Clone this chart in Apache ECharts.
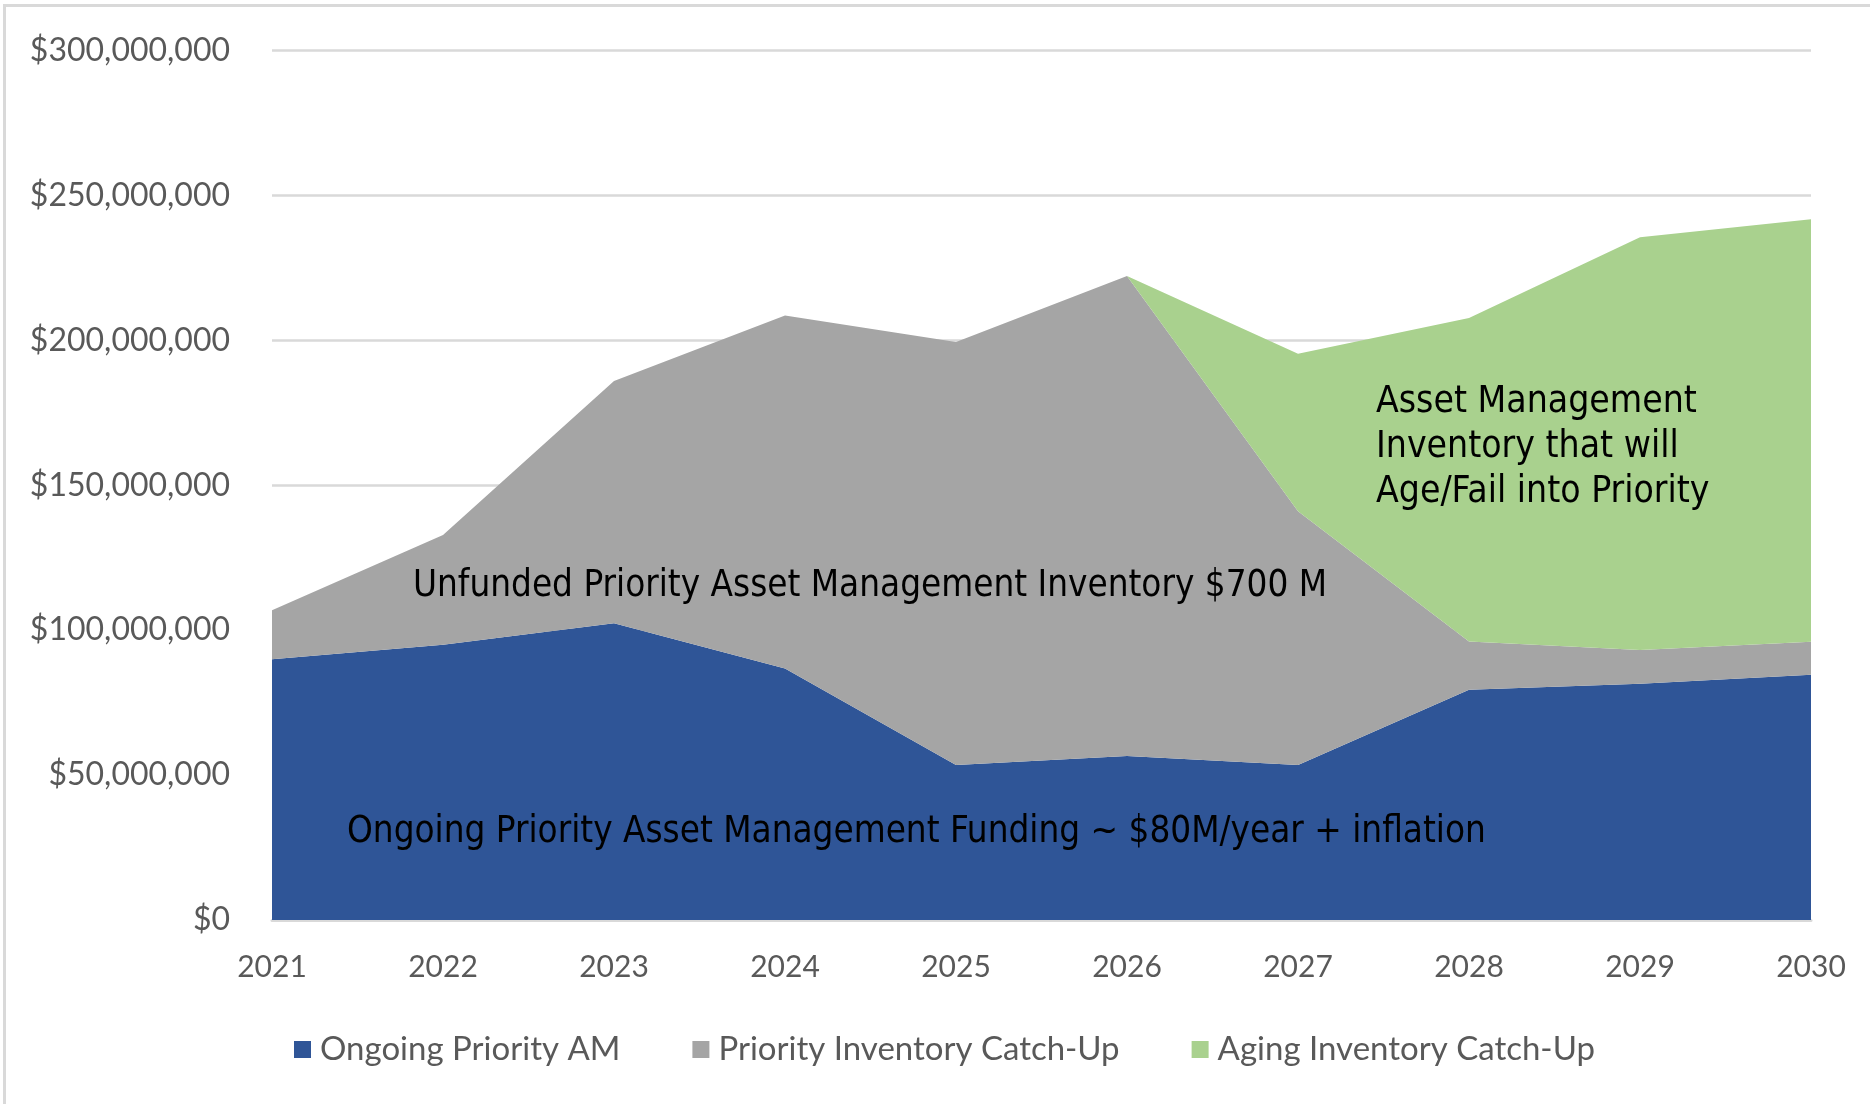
<!DOCTYPE html>
<html>
<head>
<meta charset="utf-8">
<script src="https://cdn.jsdelivr.net/npm/echarts@6/dist/echarts.min.js"></script>
<style>
  html, body { margin: 0; padding: 0; background: #fff; overflow: hidden; }
  #frame { position: absolute; left: 3px; top: 4px; width: 1900px; height: 1140px;
           border-left: 3px solid #d9d9d9; border-top: 3px solid #d9d9d9; }
  #chart { position: absolute; left: 0; top: 0; width: 1870px; height: 1104px; }
</style>
</head>
<body>
<div id="frame"></div>
<div id="chart"></div>
<script>
	// values in millions of dollars
	var years = ['2021', '2022', '2023', '2024', '2025', '2026', '2027', '2028', '2029', '2030'];
	var ongoingAM = [90, 95, 102.4, 86.8, 53.5, 56.6, 53.5, 79.4, 81.5, 84.6];
	var priorityCatchUp = [16.9, 37.8, 83.6, 121.8, 145.9, 165.6, 87.5, 16.7, 11.7, 11.4];
	var agingCatchUp = [0, 0, 0, 0, 0, 0, 54.4, 111.6, 142.4, 145.8];
	var yTicks = [0, 50, 100, 150, 200, 250, 300];

	var axisFont = 'Lato, "Open Sans", sans-serif';
	var noteFont = '"Liberation Sans Narrow", "DejaVu Sans Condensed", sans-serif';

	function money(v) {
		return '$' + Math.round(v * 1000000).toLocaleString('en-US');
	}

	function areaSeries(name, data, color) {
		return {
			name: name,
			type: 'line',
			stack: 'total',
			symbol: 'none',
			lineStyle: { width: 0 },
			areaStyle: { color: color, opacity: 1 },
			itemStyle: { color: color },
			data: data.map(function(v) { return v * 1000000; })
		};
	}

	var myChart = echarts.init(document.getElementById('chart'));
	var option = {
		animation: false,
		grid: { left: 272, right: 59, top: 50.5, bottom: 184 },
		legend: {
			left: 289,
			top: 1028,
			itemWidth: 17,
			itemHeight: 17,
			itemGap: 72,
			icon: 'rect',
			textStyle: { fontFamily: axisFont, fontSize: 33, color: '#595959', padding: [0, 0, 0, 4] },
			data: ['Ongoing Priority AM', 'Priority Inventory Catch-Up', 'Aging Inventory Catch-Up']
		},
		xAxis: {
			type: 'category',
			boundaryGap: false,
			data: years,
			axisTick: { show: false },
			axisLine: { lineStyle: { color: '#d9d9d9', width: 3 } },
			axisLabel: { fontFamily: axisFont, fontSize: 30, color: '#595959', margin: 32 }
		},
		yAxis: {
			type: 'value',
			min: yTicks[0] * 1000000,
			max: yTicks[yTicks.length - 1] * 1000000,
			interval: 50000000,
			axisLine: { show: false },
			axisTick: { show: false },
			splitLine: { lineStyle: { color: '#d9d9d9', width: 2.5 } },
			axisLabel: {
				fontFamily: axisFont, fontSize: 32, color: '#595959', margin: 42,
				formatter: function(v) { return money(v / 1000000); }
			}
		},
		graphic: [
			{
				type: 'text', left: 413, top: 568, z: 100,
				style: { text: 'Unfunded Priority Asset Management Inventory $700 M', font: '36.5px ' + noteFont, fill: '#000' }
			},
			{
				type: 'text', left: 347, top: 814, z: 100,
				style: { text: 'Ongoing Priority Asset Management Funding ~ $80M/year + inflation', font: '36.5px ' + noteFont, fill: '#000' }
			},
			{
				type: 'text', left: 1376, top: 380, z: 100,
				style: { text: 'Asset Management\nInventory that will\nAge/Fail into Priority', font: '37px ' + noteFont, lineHeight: 45, fill: '#000' }
			}
		],
		series: [
			areaSeries('Ongoing Priority AM', ongoingAM, '#2f5597'),
			areaSeries('Priority Inventory Catch-Up', priorityCatchUp, '#a5a5a5'),
			areaSeries('Aging Inventory Catch-Up', agingCatchUp, '#a9d18e')
		]
	};
	myChart.setOption(option);
</script>
</body>
</html>
